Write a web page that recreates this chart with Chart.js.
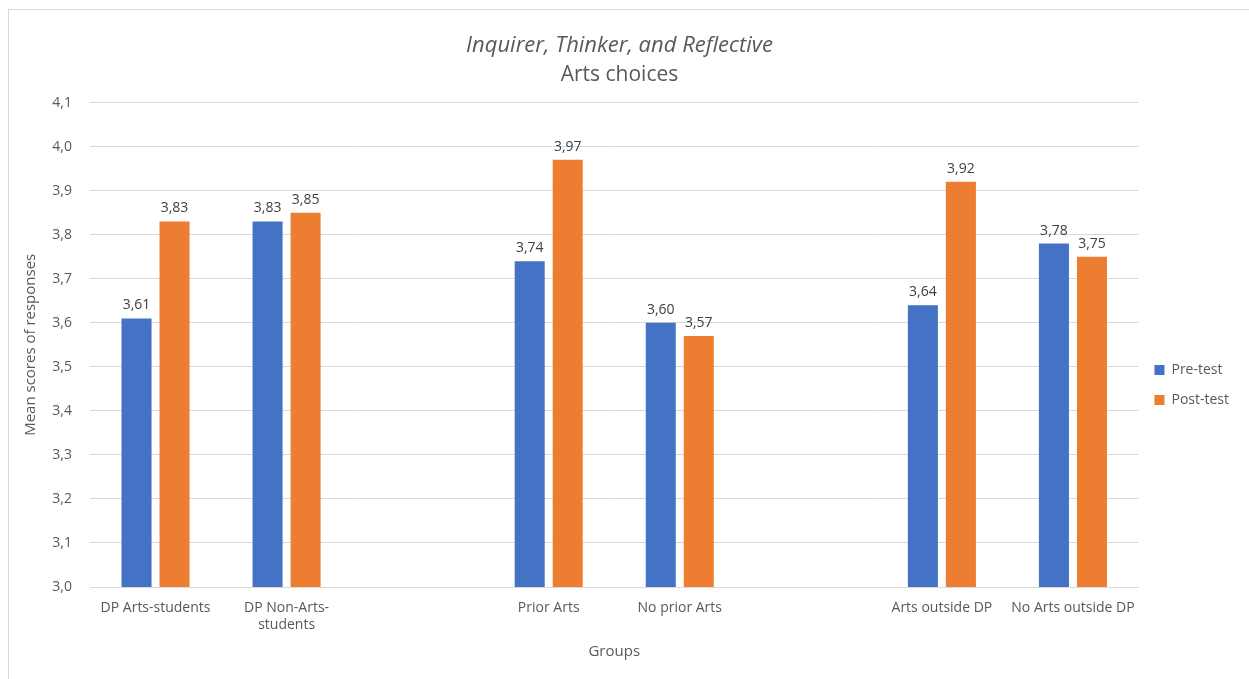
<!DOCTYPE html>
<html>
<head>
<meta charset="utf-8">
<script src="https://cdn.jsdelivr.net/npm/chart.js@4.4.1/dist/chart.umd.min.js"></script>
<style>
	html, body { margin: 0; padding: 0; background: #fff; }
	#frame {
		position: absolute;
		left: 8px;
		top: 9px;
		width: 1260px;
		height: 690px;
		border: 1px solid #d9d9d9;
	}
	#wrap { position: absolute; left: 0; top: 0; width: 1249px; height: 679px; }
</style>
</head>
<body>
<div id="frame"></div>
<div id="wrap"><canvas id="chart" width="1249" height="679"></canvas></div>
<script>
// group labels (empty slots are the gaps between the pairs of groups)
const groups = [
	"DP Arts-students",
	["DP Non-Arts-", "students"],
	"",
	"Prior Arts",
	"No prior Arts",
	"",
	"Arts outside DP",
	"No Arts outside DP",
];
const preTest = [3.61, 3.83, null, 3.74, 3.6, null, 3.64, 3.78];
const postTest = [3.83, 3.85, null, 3.97, 3.57, null, 3.92, 3.75];
const yTicks = [3.0, 3.1, 3.2, 3.3, 3.4, 3.5, 3.6, 3.7, 3.8, 3.9, 4.0, 4.1];

const fontFamily = "'Open Sans', sans-serif";
const textColor = "#595959";

// Write numbers the way the reference does: decimal comma
function commaNum(v, digits) {
	return v.toFixed(digits).replace(".", ",");
}

// Draw the value above each bar
const barValues = {
	id: "barValues",
	afterDatasetsDraw(chart) {
		const ctx = chart.ctx;
		ctx.save();
		ctx.font = "14px " + fontFamily;
		ctx.fillStyle = "#404040";
		ctx.textAlign = "center";
		ctx.textBaseline = "bottom";
		chart.data.datasets.forEach((ds, i) => {
			const meta = chart.getDatasetMeta(i);
			meta.data.forEach((bar, j) => {
				if (ds.data[j] == null) return;
				ctx.fillText(commaNum(ds.data[j], 2), bar.x, bar.y - 6);
			});
		});
		ctx.restore();
	},
};

const ctx = document.getElementById("chart").getContext("2d");
new Chart(ctx, {
	type: "bar",
	data: {
		labels: groups,
		datasets: [
			{
				label: "Pre-test",
				data: preTest,
				backgroundColor: "#4472C4",
				categoryPercentage: 0.58,
				barPercentage: 0.79,
			},
			{
				label: "Post-test",
				data: postTest,
				backgroundColor: "#ED7D31",
				categoryPercentage: 0.58,
				barPercentage: 0.79,
			},
		],
	},
	options: {
		responsive: false,
		animation: false,
		layout: {
			padding: { left: 0, right: 10, top: 33, bottom: 0 },
		},
		plugins: {
			title: {
				display: true,
				text: "Inquirer, Thinker, and Reflective",
				color: textColor,
				font: { family: fontFamily, size: 22, style: "italic", weight: "normal" },
				padding: { top: 0, bottom: 3 },
			},
			subtitle: {
				display: true,
				text: "Arts choices",
				color: textColor,
				font: { family: fontFamily, size: 21, weight: "normal" },
				padding: { top: 0, bottom: 15 },
			},
			legend: {
				position: "right",
				// empty title only pushes the items down
				title: {
					display: true,
					text: " ",
					font: { size: 1 },
					padding: { top: 57, bottom: 0 },
				},
				labels: {
					color: textColor,
					font: { family: fontFamily, size: 14 },
					boxWidth: 10,
					boxHeight: 10,
					padding: 16,
				},
			},
			tooltip: { enabled: false },
		},
		scales: {
			x: {
				grid: { display: false },
				border: { color: "#d9d9d9" },
				afterFit(scale) {
					scale.height = 92;
				},
				ticks: {
					color: textColor,
					font: { family: fontFamily, size: 14 },
					maxRotation: 0,
					autoSkip: false,
					padding: 5,
				},
				title: {
					display: true,
					text: "Groups",
					color: textColor,
					font: { family: fontFamily, size: 15 },
					padding: { top: 4, bottom: 18 },
				},
			},
			y: {
				min: 3.0,
				max: 4.1,
				afterBuildTicks(scale) {
					scale.ticks = yTicks.map((v) => ({ value: v }));
				},
				afterFit(scale) {
					scale.width = 90;
				},
				grid: { color: "#d9d9d9", drawTicks: false },
				border: { display: false },
				ticks: {
					color: textColor,
					font: { family: fontFamily, size: 14 },
					padding: 18,
					callback: (v) => commaNum(v, 1),
				},
				title: {
					display: true,
					text: "Mean scores of responses",
					color: textColor,
					font: { family: fontFamily, size: 15 },
					padding: { top: 22, bottom: 0 },
				},
			},
		},
	},
	plugins: [barValues],
});
</script>
</body>
</html>
